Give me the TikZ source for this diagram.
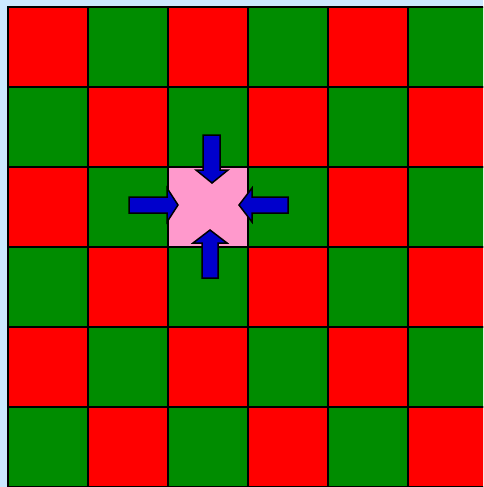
\documentclass[tikz,border=0pt]{standalone}
\definecolor{bgblue}{RGB}{204,232,255}
\definecolor{cred}{RGB}{255,0,0}
\definecolor{cgreen}{RGB}{0,140,0}
\definecolor{cpink}{RGB}{255,153,204}
\definecolor{cblue}{RGB}{0,0,204}
\begin{document}
\begin{tikzpicture}[x=1pt,y=-1pt,
  cellred/.style={fill=cred},
  cellgreen/.style={fill=cgreen},
  cellpink/.style={fill=cpink},
  gridline/.style={draw=black,line width=2pt},
  arrowshape/.style={fill=cblue,draw=black,line width=1.5pt,line join=miter}]
\useasboundingbox (0,0) rectangle (483,487);
\clip (0,0) rectangle (483,487);
\fill[bgblue] (0,0) rectangle (483,487);
\foreach \i in {0,...,5}{
  \foreach \j in {0,...,5}{
    \pgfmathtruncatemacro{\parity}{mod(\i+\j,2)}
    \ifnum\parity=0
      \path[cellred,gridline] ({8+80*\i},{7+80*\j}) rectangle ++(80,80);
    \else
      \path[cellgreen,gridline] ({8+80*\i},{7+80*\j}) rectangle ++(80,80);
    \fi
  }
}
\path[cellpink,gridline] (168,167) rectangle ++(80,80);
% arrows
\draw[arrowshape] (203,135) -- (220,135) -- (220,170) -- (228,170) -- (212,183) -- (196,170) -- (203,170) -- cycle;
\draw[arrowshape] (129,197) -- (167,197) -- (167,188) -- (178,205) -- (167,222) -- (167,213) -- (129,213) -- cycle;
\draw[arrowshape] (288,197) -- (252,197) -- (252,188) -- (239,205) -- (252,222) -- (252,213) -- (288,213) -- cycle;
\draw[arrowshape] (202,278) -- (218,278) -- (218,243) -- (227,243) -- (210,230) -- (193,243) -- (202,243) -- cycle;
\end{tikzpicture}
\end{document}
